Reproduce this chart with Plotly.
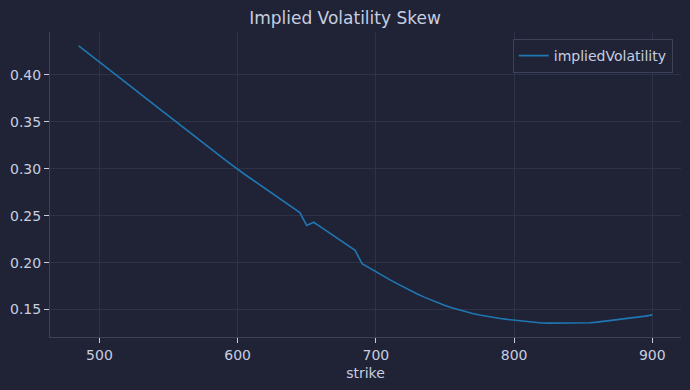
import plotly.graph_objects as go

strike = [485, 490, 495, 500, 505, 510, 515, 520, 525, 530, 535, 540, 545, 550, 555,
          560, 565, 570, 575, 580, 585, 590, 595, 600, 605, 610, 615, 620, 625, 630,
          635, 640, 645, 650, 655, 660, 665, 670, 675, 680, 685, 690, 695, 700, 705,
          710, 715, 720, 725, 730, 735, 740, 745, 750, 755, 760, 765, 770, 775, 780,
          785, 790, 795, 800, 805, 810, 815, 820, 825, 830, 835, 840, 845, 850, 855,
          860, 865, 870, 875, 880, 885, 890, 895, 900]

implied_volatility = [0.4310, 0.4254, 0.4198, 0.4142, 0.4084, 0.4026, 0.3968, 0.3910, 0.3852,
                      0.3794, 0.3736, 0.3678, 0.3620, 0.3562, 0.3504, 0.3444, 0.3388, 0.3332,
                      0.3275, 0.3219, 0.3162, 0.3106, 0.3050, 0.2993, 0.2942, 0.2891, 0.2840,
                      0.2789, 0.2738, 0.2687, 0.2636, 0.2585, 0.2533, 0.2397, 0.2430, 0.2380,
                      0.2330, 0.2280, 0.2230, 0.2180, 0.2130, 0.1988, 0.1944, 0.1902, 0.1860,
                      0.1819, 0.1779, 0.1740, 0.1702, 0.1666, 0.1632, 0.1600, 0.1570, 0.1543,
                      0.1518, 0.1496, 0.1476, 0.1458, 0.1442, 0.1428, 0.1416, 0.1405, 0.1395,
                      0.1386, 0.1377, 0.1369, 0.1362, 0.1357, 0.1355, 0.1355, 0.1355, 0.1356,
                      0.1356, 0.1357, 0.1359, 0.1366, 0.1374, 0.1382, 0.1391, 0.1400, 0.1410,
                      0.1420, 0.1430, 0.1443]

x_ticks = [500, 600, 700, 800, 900]
y_ticks = [0.15, 0.20, 0.25, 0.30, 0.35, 0.40]

BG = "#1f2335"
GRID = "#2c3248"
TEXT = "#c8cde0"
AXIS = "#3b4259"

fig = go.Figure()
fig.add_trace(go.Scatter(x=strike, y=implied_volatility, mode="lines",
                         name="impliedVolatility",
                         line=dict(color="#1f77b4", width=1.6)))

xmin, xmax = min(strike), max(strike)
ymin, ymax = min(implied_volatility), max(implied_volatility)
xpad = (xmax - xmin) * 0.05
ypad = (ymax - ymin) * 0.05

fig.update_layout(
    width=690, height=390,
    paper_bgcolor=BG, plot_bgcolor=BG,
    font=dict(family="DejaVu Sans", color=TEXT, size=14),
    margin=dict(l=50, r=9, t=32, b=53, pad=0),
    title=dict(text="Implied Volatility Skew", x=0.5, xanchor="center",
               y=1 - 18 / 390, yanchor="middle", font=dict(size=17, color=TEXT)),
    showlegend=True,
    legend=dict(x=0.987, xanchor="right", y=0.977, yanchor="top",
                bgcolor=BG, bordercolor=AXIS, borderwidth=1, itemwidth=30,
                font=dict(size=14, color=TEXT)),
    xaxis=dict(range=[xmin - xpad, xmax + xpad], tickvals=x_ticks,
               ticktext=[str(v) for v in x_ticks], automargin=False,
               showgrid=True, gridcolor=GRID, gridwidth=1, zeroline=False,
               showline=True, linecolor=AXIS, linewidth=1, mirror=False,
               ticks="outside", ticklen=5, tickcolor=TEXT, tickwidth=1,
               title=dict(text="strike", standoff=6, font=dict(size=14, color=TEXT))),
    yaxis=dict(range=[ymin - ypad, ymax + ypad], tickvals=y_ticks,
               ticktext=[f"{v:.2f}" for v in y_ticks], automargin=False,
               showgrid=True, gridcolor=GRID, gridwidth=1, zeroline=False,
               showline=True, linecolor=AXIS, linewidth=1, mirror=False,
               ticks="outside", ticklen=5, tickcolor=TEXT, tickwidth=1),
)

fig.write_html("out.html",
               config={"displayModeBar": False},
               post_script="document.body.style.margin='0';"
                           "document.body.style.background='" + BG + "';")
